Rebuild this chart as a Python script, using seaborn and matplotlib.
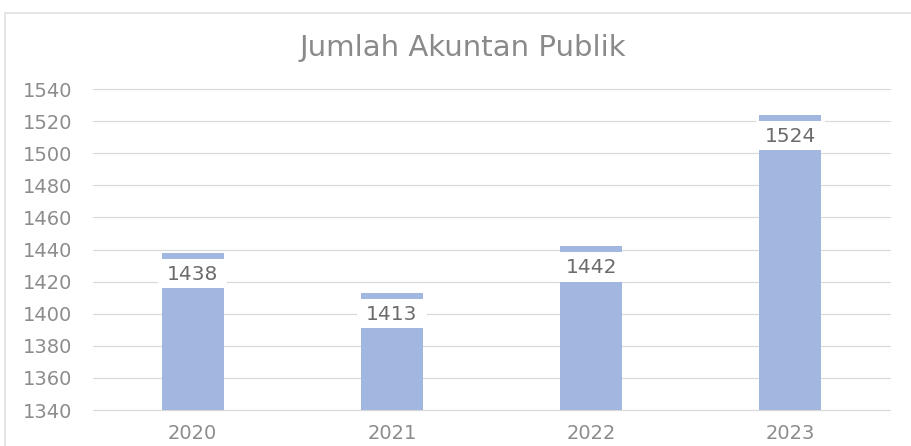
import matplotlib
matplotlib.use("Agg")
import matplotlib.pyplot as plt
import seaborn as sns
import pandas as pd
from matplotlib.patches import Rectangle

years = ["2020", "2021", "2022", "2023"]
values = [1438, 1413, 1442, 1524]
title = "Jumlah Akuntan Publik"

sns.set_theme(style="white")
plt.rcParams['font.family'] = ['DejaVu Sans']

W, H = 912, 446
fig = plt.figure(figsize=(W / 100, H / 100), dpi=100)
ax = fig.add_axes([93 / W, 1 - 410 / H, (890 - 93) / W, (410 - 89) / H])

df = pd.DataFrame({"year": years, "value": values})
sns.barplot(data=df, x="year", y="value", color="#A2B7E0", width=0.31,
            saturation=1, linewidth=0, ax=ax, zorder=2)

ax.set_ylim(1340, 1540)
ax.set_yticks(range(1340, 1541, 20))
ax.yaxis.grid(True, color="#d9d9d9", linewidth=0.9, zorder=0)
ax.set_axisbelow(True)
for line in ax.get_ygridlines():
    line.set_clip_on(False)
for s in ax.spines.values():
    s.set_visible(False)
ax.set_xlabel("")
ax.set_ylabel("")
ax.tick_params(axis="y", length=0, pad=15, labelsize=14, labelcolor="#8c8c8c")
ax.tick_params(axis="x", length=0, pad=10, labelsize=14, labelcolor="#8c8c8c")

for i, v in enumerate(values):
    ax.add_patch(Rectangle((i - 0.175, v - 22), 0.35, 18.2, facecolor="white",
                           edgecolor="none", zorder=4))
    ax.text(i, v - 13.3, str(v), ha="center", va="center", fontsize=14.5,
            color="#6b6b6b", zorder=5)

fig.text((285 + 640) / 2 / W, 1 - 48 / H, title, ha="center", va="center",
         fontsize=21, color="#8a8a8a")

fig.patches.append(Rectangle((5 / W, -0.05), 1.1, 1 - 13 / H + 0.05,
                             transform=fig.transFigure, fill=False,
                             edgecolor="#e0e0e0", linewidth=1.2))

fig.savefig("out.png", dpi=100)
